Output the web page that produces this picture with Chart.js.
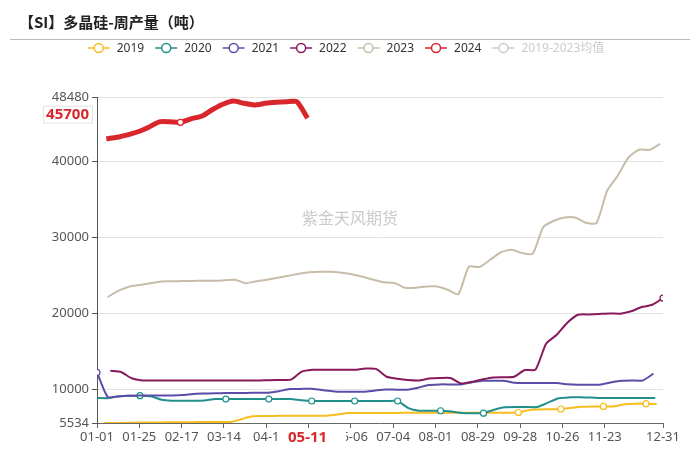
<!DOCTYPE html>
<html>
<head>
<meta charset="utf-8">
<script src="https://cdn.jsdelivr.net/npm/chart.js@4.4.0/dist/chart.umd.min.js"></script>
<style>
  html, body { margin:0; padding:0; background:#fff; }
</style>
</head>
<body>
<canvas id="siChart" width="700" height="449"></canvas>
<script>
const years = ['2019','2020','2021','2022','2023','2024'];
const legendNames = ['2019','2020','2021','2022','2023','2024','2019-2023均值'];
const xLabels = ['01-01','01-25','02-17','03-14','04-1','','06-06','07-04','08-01','08-29','09-28','10-26','11-23','12-31'];
const xTickWeeks = [0,4,8,12,16,20,24,28,32,36,40,44,48,53.5];
const yTicks = [5534,10000,20000,30000,40000,48480];
const pointerDate = '05-11';

// first / last week position of each year on the shared date axis
const startWeek = [0.62, 0, 0, 1.26, 1.0, 0.88];
const endWeek   = [52.9, 52.77, 52.59, 53.5, 53.24, 19.9];

const v2019 = [5534,5540,5560,5580,5600,5610,5620,5630,5640,5650,5660,5670,5680,6060,6420,6460,6470,6480,6480,6490,6490,6500,6650,6850,6850,6860,6860,6860,6870,6870,6870,6880,6880,6880,6880,6890,6890,6900,6900,6920,7250,7310,7350,7380,7550,7690,7720,7720,7720,8010,8080,8080,8010];
const v2020 = [8830,8810,9050,9130,9130,9050,8600,8480,8470,8470,8510,8690,8690,8690,8690,8690,8690,8690,8690,8540,8430,8430,8430,8430,8430,8430,8430,8430,8430,7500,7150,7150,7150,7040,6840,6810,6830,7290,7600,7640,7640,7640,8210,8800,8910,8910,8880,8830,8830,8830,8830,8830,8830];
const v2021 = [12200,8960,9040,9120,9170,9170,9170,9170,9210,9370,9420,9450,9470,9490,9500,9510,9520,9720,10010,10020,10050,9880,9730,9650,9650,9650,9810,9950,9920,9920,10180,10540,10620,10620,10620,10870,11100,11100,11100,10840,10800,10800,10800,10800,10630,10580,10580,10580,10870,11100,11140,11140,12030];
const v2022 = [12420,12260,11430,11140,11140,11140,11140,11140,11140,11140,11140,11140,11140,11140,11140,11180,11200,11240,12290,12550,12550,12550,12550,12550,12710,12660,11630,11370,11200,11140,11390,11460,11460,10750,10970,11280,11540,11570,11630,12510,12550,15980,17160,18740,19790,19840,19900,19960,19930,20250,20810,21110,21990];
const v2023 = [22130,22930,23490,23720,23930,24180,24210,24230,24250,24270,24270,24340,24410,23950,24210,24410,24670,24930,25200,25400,25460,25460,25330,25130,24800,24410,24080,23970,23350,23350,23520,23520,23090,22500,26120,26090,27040,28030,28360,27920,27830,31350,32180,32610,32610,31910,31870,36130,38100,40510,41530,41530,42320];
const v2024 = [42980,43170,43500,43900,44500,45210,45210,45140,45610,45950,46800,47520,47940,47650,47430,47650,47780,47850,47850,45700];

const seriesValues = [v2019, v2020, v2021, v2022, v2023, v2024];
const colors = ['#f5bd1e','#21908d','#5b4da7','#861a5b','#c8bcaa','#d9262c'];
const avgColor = '#cccccc';
// points that carry a small hollow symbol (as in the source chart)
const marks = [[39,43,47,51],[4,12,16,20,24,28,32,36],[0],[52],[],[7]];

const FONT = "'Noto Sans', 'Noto Sans CJK SC', sans-serif";
const CJK = "'Noto Sans CJK SC', 'Noto Sans', sans-serif";

const datasets = years.map((y, i) => {
  const vals = seriesValues[i];
  const step = (endWeek[i] - startWeek[i]) / (vals.length - 1);
  return {
    label: y,
    data: vals.map((v, k) => ({ x: startWeek[i] + k * step, y: v })),
    borderColor: colors[i],
    backgroundColor: '#fff',
    borderWidth: i === 5 ? 5 : 2,
    pointRadius: ctx => marks[i].includes(ctx.dataIndex) ? 3 : 0,
    pointBorderWidth: 1.2,
    pointBackgroundColor: '#fff',
    pointBorderColor: colors[i],
    tension: 0.2,
    order: years.length - i
  };
});

const decorations = {
  id: 'decorations',
  beforeDatasetsDraw(chart) {
    const ctx = chart.ctx;
    ctx.save();
    // watermark
    ctx.font = '16px ' + CJK;
    ctx.fillStyle = 'rgba(150,150,150,0.5)';
    ctx.textAlign = 'center';
    ctx.textBaseline = 'middle';
    ctx.fillText('紫金天风期货', 350, 218);
    ctx.restore();
  },
  afterDraw(chart) {
    const ctx = chart.ctx;
    ctx.save();
    // title
    ctx.font = 'bold 15px ' + CJK;
    ctx.fillStyle = '#222';
    ctx.textAlign = 'left';
    ctx.textBaseline = 'middle';
    ctx.fillText('【SI】多晶硅-周产量（吨）', 19, 22);
    ctx.strokeStyle = '#bbbbbb';
    ctx.lineWidth = 1;
    ctx.beginPath(); ctx.moveTo(10, 39.5); ctx.lineTo(690, 39.5); ctx.stroke();

    // legend
    ctx.font = '12px ' + FONT;
    const iconW = 22, textGap = 7, itemGap = 11;
    const widths = legendNames.map(n => ctx.measureText(n).width);
    const total = widths.reduce((a, w) => a + iconW + textGap + w, 0) + itemGap * (legendNames.length - 1);
    let lx = 346 - total / 2;
    const ly = 48;
    legendNames.forEach((n, i) => {
      const c = i < colors.length ? colors[i] : avgColor;
      ctx.strokeStyle = c;
      ctx.lineWidth = 1.5;
      ctx.beginPath(); ctx.moveTo(lx, ly); ctx.lineTo(lx + iconW, ly); ctx.stroke();
      ctx.beginPath(); ctx.arc(lx + iconW / 2, ly, 4.5, 0, Math.PI * 2);
      ctx.fillStyle = '#fff'; ctx.fill(); ctx.stroke();
      ctx.fillStyle = i < colors.length ? '#333' : avgColor;
      ctx.textBaseline = 'middle';
      ctx.fillText(n, lx + iconW + textGap, ly + 0.5);
      lx += iconW + textGap + widths[i] + itemGap;
    });

    // pointer labels for the latest 2024 point
    const xs = chart.scales.x, ys = chart.scales.y;
    const red = '#d9262c';
    ctx.font = 'bold 15px ' + FONT;
    const px = xs.getPixelForValue(endWeek[5]);
    const tw = ctx.measureText(pointerDate).width;
    ctx.fillStyle = '#fff';
    ctx.fillRect(px - tw / 2 - 7, 429, tw + 26, 19);
    ctx.fillStyle = red;
    ctx.textAlign = 'center';
    ctx.textBaseline = 'middle';
    ctx.fillText(pointerDate, px, 437.5);

    const lastVal = v2024[v2024.length - 1];
    const py = ys.getPixelForValue(lastVal) - 4;
    const label = String(lastVal);
    const lw = ctx.measureText(label).width;
    ctx.fillStyle = '#fff';
    ctx.strokeStyle = '#e2e2e2';
    ctx.lineWidth = 1;
    ctx.fillRect(89 - lw - 3, py - 8.5, lw + 6, 17);
    ctx.strokeRect(89.5 - lw - 3, py - 8, lw + 6, 17);
    ctx.fillStyle = red;
    ctx.textAlign = 'right';
    ctx.fillText(label, 89, py + 0.5);
    ctx.restore();
  }
};

new Chart(document.getElementById('siChart').getContext('2d'), {
  type: 'line',
  data: { datasets },
  plugins: [decorations],
  options: {
    responsive: false,
    animation: false,
    layout: { padding: { top: 97, right: 37, left: 0, bottom: 0 } },
    plugins: { legend: { display: false }, tooltip: { enabled: false } },
    scales: {
      x: {
        type: 'linear', min: 0, max: 53.5,
        afterBuildTicks: s => { s.ticks = xTickWeeks.map(v => ({ value: v })); },
        afterFit: s => { s.height = 26; },
        ticks: { autoSkip: false, maxRotation: 0, padding: 1, color: '#555', font: { size: 13, family: FONT }, callback: (v, i) => xLabels[i] },
        grid: { drawOnChartArea: false, tickLength: 5, tickColor: '#666', color: '#666' },
        border: { color: '#666', width: 1 }
      },
      y: {
        min: 5534, max: 48480,
        afterBuildTicks: s => { s.ticks = yTicks.map(v => ({ value: v })); },
        afterFit: s => { s.width = 97; },
        ticks: { color: '#555', padding: 3, font: { size: 13, family: FONT }, callback: v => String(v) },
        grid: { color: '#e3e3e3', tickLength: 5, tickColor: '#555' },
        border: { color: '#555', width: 1 }
      }
    }
  }
});
</script>
</body>
</html>
